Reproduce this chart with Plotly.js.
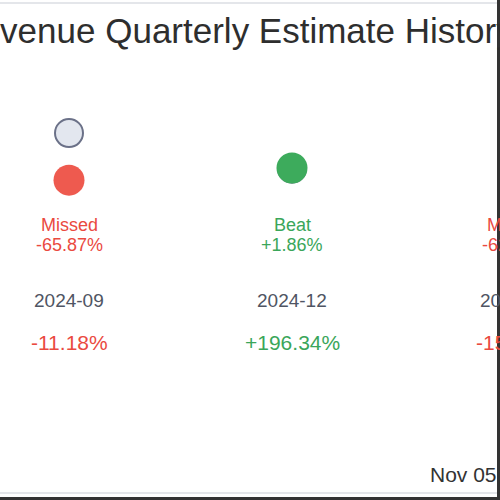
<!DOCTYPE html>
<html>
<head>
<meta charset="utf-8">
<script src="https://cdn.plot.ly/plotly-3.0.1.min.js"></script>
<style>html,body{margin:0;padding:0;background:#fff;overflow:hidden;width:500px;height:500px}#chart{width:560px;height:500px}</style>
</head>
<body>
<div id="chart"></div>
<script>
// Data
const quarters = ['2024-09', '2024-12', '2025-03'];
const estimates = [2.00, 1.00, 1.50];
const actuals = [0.68, 1.02, 0.56];
const outcomes = ['Missed', 'Beat', 'Missed'];
const surpriseLabels = ['-65.87%', '+1.86%', '-62.67%'];
const growthLabels = ['-11.18%', '+196.34%', '-15.42%'];
const footerText = 'Nov 05, 2025';
const titleText = 'Revenue Quarterly Estimate History';

const W = 560, H = 500;
const RED = '#ee5a4f', GREEN = '#3dab5c';
const TXT_RED = '#ea4a3f', TXT_GREEN = '#3aa65a';
const FONT = '"Liberation Sans", Arial, sans-serif';

const colorFor = o => o === 'Beat' ? GREEN : RED;
const txtColorFor = o => o === 'Beat' ? TXT_GREEN : TXT_RED;

const traces = [
  {
    x: quarters, y: estimates, type: 'scatter', mode: 'markers',
    marker: {size: 28, color: '#e3e7ef', line: {color: '#6b7188', width: 2}},
    hoverinfo: 'skip', showlegend: false
  },
  {
    x: quarters, y: actuals, type: 'scatter', mode: 'markers',
    marker: {size: 31, color: outcomes.map(colorFor), line: {width: 0}},
    hoverinfo: 'skip', showlegend: false
  }
];

const annotations = [];
const py = px => 1 - px / H;
const pxr = px => px / W;
quarters.forEach((q, i) => {
  const c = txtColorFor(outcomes[i]);
  annotations.push({x: q, xref: 'x', y: py(225), yref: 'paper', text: outcomes[i], showarrow: false, xanchor: 'center', yanchor: 'middle', font: {family: FONT, size: 18, color: c}});
  annotations.push({x: q, xref: 'x', y: py(245), yref: 'paper', text: surpriseLabels[i], showarrow: false, xanchor: 'center', yanchor: 'middle', font: {family: FONT, size: 18, color: c}});
  annotations.push({x: q, xref: 'x', y: py(300), yref: 'paper', text: q, showarrow: false, xanchor: 'center', yanchor: 'middle', font: {family: FONT, size: 19, color: '#4f5563'}});
  const gc = growthLabels[i].startsWith('-') ? TXT_RED : TXT_GREEN;
  annotations.push({x: q, xref: 'x', y: py(342), yref: 'paper', text: growthLabels[i], showarrow: false, xanchor: 'center', yanchor: 'middle', font: {family: FONT, size: 21, color: gc}});
});
annotations.push({x: pxr(428), xref: 'paper', y: py(474), yref: 'paper', text: footerText, showarrow: false, xanchor: 'left', yanchor: 'middle', font: {family: FONT, size: 21, color: '#333'}});

const layout = {
  width: W, height: H,
  margin: {l: 0, r: 0, t: 0, b: 0},
  paper_bgcolor: '#fff', plot_bgcolor: '#fff',
  title: {text: titleText, font: {family: FONT, size: 35, color: '#2e2e2e'}, xref: 'container', x: 234.5 / W, xanchor: 'center', yref: 'container', y: 1 - 31 / H, yanchor: 'middle'},
  xaxis: {type: 'category', range: [-69 / 223, (W - 69) / 223], visible: false, fixedrange: true},
  yaxis: {range: [(204.4 - H) / 35.68, 204.4 / 35.68], visible: false, fixedrange: true},
  annotations: annotations,
  shapes: [
    {type: 'line', xref: 'paper', yref: 'paper', x0: 0, x1: 1, y0: py(3), y1: py(3), line: {color: '#e4e6ea', width: 2}},
    {type: 'line', xref: 'paper', yref: 'paper', x0: 0, x1: 1, y0: py(493), y1: py(493), line: {color: '#e4e6ea', width: 2}},
    {type: 'line', xref: 'paper', yref: 'paper', x0: 0, x1: 1, y0: py(498.5), y1: py(498.5), line: {color: '#333', width: 3}},
    {type: 'line', xref: 'paper', yref: 'paper', x0: pxr(498.5), x1: pxr(498.5), y0: 0, y1: 1, line: {color: '#333', width: 3}}
  ]
};

Plotly.newPlot('chart', traces, layout, {displayModeBar: false, staticPlot: true});
</script>
</body>
</html>
